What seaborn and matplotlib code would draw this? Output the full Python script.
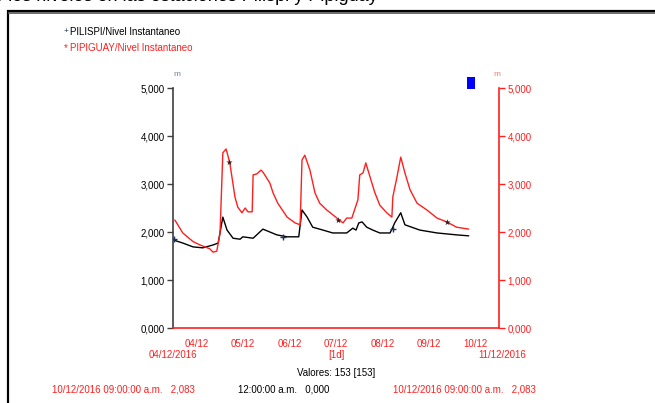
import numpy as np
import pandas as pd
import matplotlib
matplotlib.use("Agg")
import matplotlib.pyplot as plt
from matplotlib.patches import Rectangle
from matplotlib.ticker import FixedLocator, FuncFormatter
import seaborn as sns

# ---- data (days since 04/12/2016 00:00, level in m) ----
pipiguay_t = [0.04, 0.21, 0.43, 0.58, 0.79, 0.86, 0.94, 1.01, 1.07, 1.14, 1.22, 1.33,
              1.39, 1.48, 1.55, 1.61, 1.70, 1.72, 1.80, 1.89, 1.93, 2.08, 2.15, 2.25,
              2.45, 2.62, 2.73, 2.77, 2.83, 2.94, 3.05, 3.15, 3.30, 3.52, 3.65, 3.73,
              3.84, 3.97, 4.01, 4.08, 4.14, 4.23, 4.33, 4.44, 4.59, 4.70, 4.72, 4.81,
              4.89, 4.98, 5.09, 5.24, 5.45, 5.67, 5.88, 6.09, 6.35]
pipiguay_v = [2250, 1980, 1800, 1730, 1650, 1580, 1600, 1980, 3650, 3730, 3440, 2730,
              2520, 2400, 2500, 2420, 2420, 3190, 3210, 3290, 3250, 3020, 2810, 2600,
              2310, 2190, 2150, 3500, 3600, 3290, 2810, 2600, 2460, 2290, 2190, 2290,
              2290, 2670, 3190, 3230, 3440, 3150, 2830, 2560, 2400, 2310, 2730, 3150,
              3560, 3230, 2880, 2600, 2460, 2290, 2210, 2100, 2060]

pilispi_t = [0.02, 0.21, 0.43, 0.64, 0.86, 0.97, 1.07, 1.16, 1.29, 1.44, 1.50, 1.72,
             1.93, 2.08, 2.23, 2.45, 2.70, 2.77, 2.88, 3.00, 3.22, 3.43, 3.73, 3.86,
             3.93, 3.99, 4.06, 4.16, 4.29, 4.44, 4.66, 4.72, 4.76, 4.89, 4.98, 5.30,
             5.67, 6.09, 6.35]
pilispi_v = [1830, 1770, 1690, 1670, 1730, 1770, 2310, 2040, 1870, 1850, 1900, 1870,
             2060, 2000, 1940, 1900, 1900, 2460, 2310, 2100, 2040, 1980, 1980, 2080,
             2040, 2190, 2210, 2100, 2040, 1980, 1980, 2100, 2190, 2400, 2150, 2040,
             1980, 1940, 1920]

# point markers along each series
pilispi_mark_t = [0.02, 2.36, 4.72]
pilispi_mark_v = [1850, 1900, 2060]
pipiguay_mark_t = [1.20, 3.54, 5.88]
pipiguay_mark_v = [3460, 2250, 2210]

day_labels = ["04/12", "05/12", "06/12", "07/12", "08/12", "09/12", "10/12"]
y_ticks = [0, 1000, 2000, 3000, 4000, 5000]

RED = "#ff1f1f"
W, H = 655, 403

sns.set_style("white")
plt.rcParams["font.family"] = ["Liberation Sans Narrow", "Liberation Sans", "DejaVu Sans"]


def fx(x):
    return x / W


def fy(y):
    return 1 - y / H


fmt = FuncFormatter(lambda v, p: f"{int(v // 1000)},000")

fig = plt.figure(figsize=(6.55, 4.03), dpi=100)
fig.patch.set_facecolor("white")

ax = fig.add_axes([fx(173), fy(328), fx(499) - fx(173), fy(88) - fy(328)])
ax2 = ax.twinx()

sns.lineplot(x=pilispi_t, y=pilispi_v, ax=ax, color="black", linewidth=1.0, estimator=None, sort=False)
sns.scatterplot(x=pilispi_mark_t, y=pilispi_mark_v, ax=ax, marker="+", color="#1c3560",
                s=18, linewidth=1.0, zorder=5)
sns.lineplot(x=pipiguay_t, y=pipiguay_v, ax=ax2, color=RED, linewidth=1.0, estimator=None, sort=False)
sns.scatterplot(x=pipiguay_mark_t, y=pipiguay_mark_v, ax=ax2, marker="*", color="#3a1a1a",
                s=22, linewidth=0, zorder=5)

for a in (ax, ax2):
    a.set_xlim(0, 7)
    a.set_ylim(0, 5000)
    a.set_xlabel("")
    a.set_ylabel("")
    a.grid(False)
    a.patch.set_alpha(0)
    a.spines["top"].set_visible(False)

ax.yaxis.set_major_locator(FixedLocator(y_ticks))
ax.yaxis.set_major_formatter(fmt)
ax2.yaxis.set_major_locator(FixedLocator(y_ticks))
ax2.yaxis.set_major_formatter(fmt)

ax.spines["left"].set_color("#404040")
ax.spines["left"].set_linewidth(1.2)
ax.spines["right"].set_visible(False)
ax.spines["bottom"].set_color(RED)
ax.spines["bottom"].set_linewidth(1.2)
ax2.spines["right"].set_color(RED)
ax2.spines["right"].set_linewidth(1.2)
ax2.spines["left"].set_visible(False)
ax2.spines["bottom"].set_visible(False)

ax.tick_params(axis="y", which="major", direction="out", length=4, width=1, color="#404040",
               labelsize=7, labelcolor="black", left=True, pad=2)
ax2.tick_params(axis="y", which="major", direction="out", length=4, width=1, color=RED,
                labelsize=7, labelcolor=RED, right=True, pad=2)

# day ticks at boundaries, labels centred in each day
ax.set_xticks(range(8))
ax.set_xticklabels([""] * 8)
ax.set_xticks([i + 0.5 for i in range(7)], minor=True)
ax.set_xticklabels(day_labels, minor=True)
ax.tick_params(axis="x", which="major", direction="out", length=8, width=1, color=RED, bottom=True)
ax.tick_params(axis="x", which="minor", length=0, labelsize=7, labelcolor=RED, pad=8)
ax2.set_xticks([])

# legend text
fig.text(fx(64), fy(32), "+", fontsize=6, color="#1c3560", va="center", ha="left")
fig.text(fx(70), fy(32), "PILISPI/Nivel Instantaneo", fontsize=7, color="black", va="center")
fig.text(fx(64), fy(48), "*", fontsize=7, color=RED, va="center", ha="left")
fig.text(fx(70), fy(48), "PIPIGUAY/Nivel Instantaneo", fontsize=7, color=RED, va="center")

# unit labels and blue square
fig.text(fx(177), fy(75), "m", fontsize=6, color="#7080a0", ha="center", va="center")
fig.text(fx(497), fy(75), "m", fontsize=6, color="#f08060", ha="center", va="center")
fig.patches.append(Rectangle((fx(467), fy(89)), fx(8), 12 / H, transform=fig.transFigure,
                             facecolor="#0000ff", edgecolor="none"))

# texts below the axis
fig.text(fx(173), fy(355), "04/12/2016", fontsize=7, color=RED, ha="center", va="center")
fig.text(fx(336), fy(355), "[1d]", fontsize=7, color=RED, ha="center", va="center")
fig.text(fx(502), fy(355), "11/12/2016", fontsize=7, color=RED, ha="center", va="center")
fig.text(fx(336), fy(373), "Valores: 153 [153]", fontsize=7, color="black", ha="center", va="center")
fig.text(fx(52), fy(390), "10/12/2016 09:00:00 a.m.   2,083", fontsize=7, color=RED, ha="left", va="center")
fig.text(fx(238), fy(390), "12:00:00 a.m.   0,000", fontsize=7, color="black", ha="left", va="center")
fig.text(fx(393), fy(390), "10/12/2016 09:00:00 a.m.   2,083", fontsize=7, color=RED, ha="left", va="center")

# outer frame (cut at right and bottom)
fig.patches.append(Rectangle((fx(8), -0.05), 1.2, fy(11) + 0.05, transform=fig.transFigure,
                             facecolor="none", edgecolor="black", linewidth=1.6))
fig.patches.append(Rectangle((fx(8), fy(12.5)), 1.2, 0.6 / H, transform=fig.transFigure,
                             facecolor="none", edgecolor="#555555", linewidth=0.6))

# caption line above the figure, mostly cut off (only its lower edge shows)
fig.text(fx(378), fy(1.0), "Comportamiento de los niveles en las estaciones Pilispi y Pipiguay",
         fontsize=13, color="black", ha="right", va="baseline",
         family=["Liberation Sans", "DejaVu Sans"])

fig.savefig("out.png", dpi=100)
